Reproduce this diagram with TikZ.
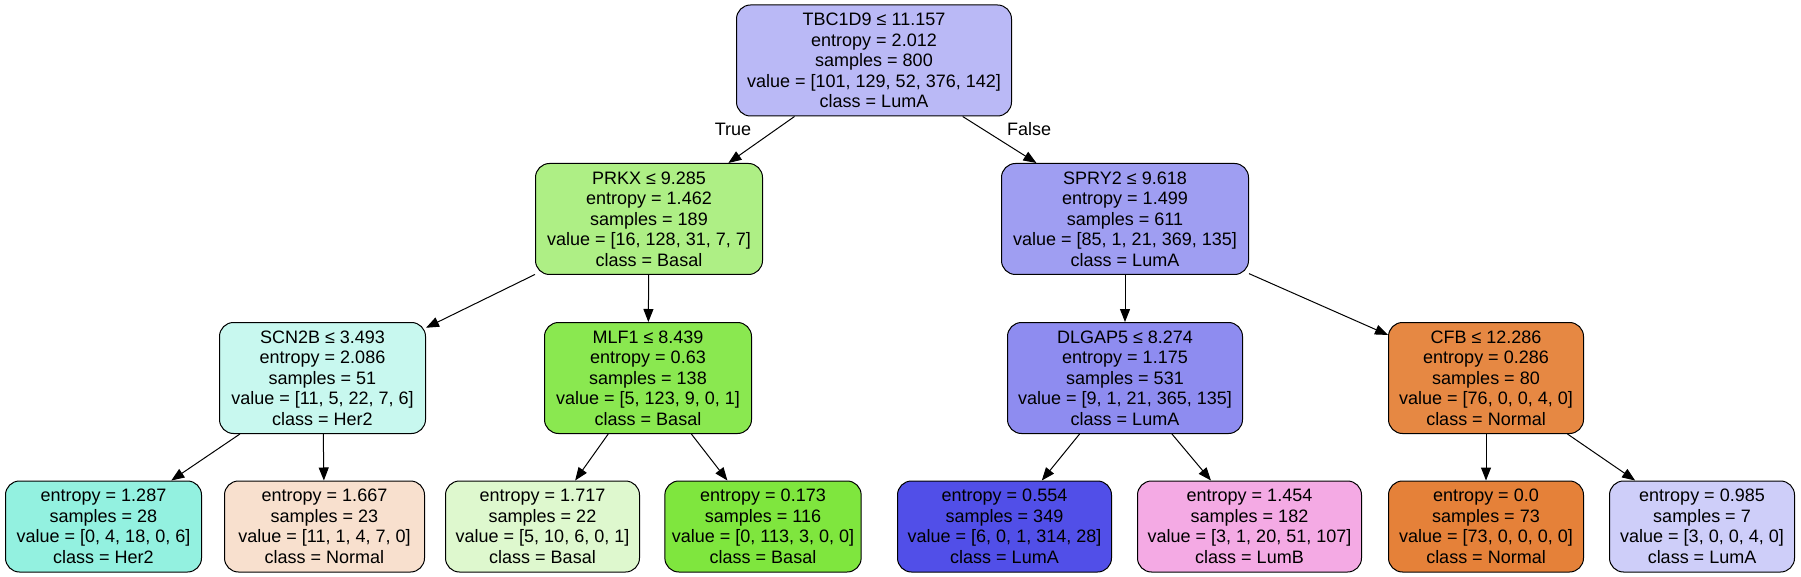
\documentclass[tikz,border=0pt]{standalone}
\usepackage{fontspec}
\setmainfont{Liberation Sans}
\usetikzlibrary{arrows.meta}

% node colours
\definecolor{cRoot}{RGB}{186,185,246}
\definecolor{cPrkx}{RGB}{174,239,133}
\definecolor{cSpry}{RGB}{159,158,242}
\definecolor{cScn}{RGB}{200,248,239}
\definecolor{cMlf}{RGB}{138,232,80}
\definecolor{cDlg}{RGB}{142,140,240}
\definecolor{cCfb}{RGB}{230,136,67}
\definecolor{cLa}{RGB}{147,241,224}
\definecolor{cLb}{RGB}{248,224,206}
\definecolor{cLc}{RGB}{222,248,206}
\definecolor{cLd}{RGB}{127,230,62}
\definecolor{cLe}{RGB}{81,79,232}
\definecolor{cLf}{RGB}{244,170,228}
\definecolor{cLg}{RGB}{229,129,57}
\definecolor{cLh}{RGB}{206,206,249}

\begin{document}
\begin{tikzpicture}[x=1pt,y=-1pt,
        split/.style={draw=black,line width=1pt,rounded corners=14pt,align=center,
            minimum height=111pt,inner xsep=7pt,inner ysep=2pt,
            font=\fontsize{18}{20.5}\selectfont},
        leaf/.style={split,minimum height=91pt},
        branch/.style={-{Triangle[length=13pt,width=10pt]},line width=1pt},
        lbl/.style={font=\fontsize{18}{20.5}\selectfont}]

        \fill[white] (0,0) rectangle (1801,577);

        % root and first split
        \node[split,fill=cRoot,minimum width=275pt] (root) at (874,60.5)
            {TBC1D9 ≤ 11.157\\entropy = 2.012\\samples = 800\\value = [101, 129, 52, 376, 142]\\class = LumA};
        \node[split,fill=cPrkx,minimum width=227pt] (prkx) at (649,219)
            {PRKX ≤ 9.285\\entropy = 1.462\\samples = 189\\value = [16, 128, 31, 7, 7]\\class = Basal};
        \node[split,fill=cSpry,minimum width=247pt] (spry) at (1125,219)
            {SPRY2 ≤ 9.618\\entropy = 1.499\\samples = 611\\value = [85, 1, 21, 369, 135]\\class = LumA};

        % second level
        \node[split,fill=cScn,minimum width=206pt] (scn) at (322.5,378)
            {SCN2B ≤ 3.493\\entropy = 2.086\\samples = 51\\value = [11, 5, 22, 7, 6]\\class = Her2};
        \node[split,fill=cMlf,minimum width=207pt] (mlf) at (648,378)
            {MLF1 ≤ 8.439\\entropy = 0.63\\samples = 138\\value = [5, 123, 9, 0, 1]\\class = Basal};
        \node[split,fill=cDlg,minimum width=235pt] (dlg) at (1125,378)
            {DLGAP5 ≤ 8.274\\entropy = 1.175\\samples = 531\\value = [9, 1, 21, 365, 135]\\class = LumA};
        \node[split,fill=cCfb,minimum width=195pt] (cfb) at (1486,378)
            {CFB ≤ 12.286\\entropy = 0.286\\samples = 80\\value = [76, 0, 0, 4, 0]\\class = Normal};

        % leaves
        \node[leaf,fill=cLa,minimum width=196pt] (la) at (103.5,526.5)
            {entropy = 1.287\\samples = 28\\value = [0, 4, 18, 0, 6]\\class = Her2};
        \node[leaf,fill=cLb,minimum width=200pt] (lb) at (324.5,526.5)
            {entropy = 1.667\\samples = 23\\value = [11, 1, 4, 7, 0]\\class = Normal};
        \node[leaf,fill=cLc,minimum width=194pt] (lc) at (542.5,526.5)
            {entropy = 1.717\\samples = 22\\value = [5, 10, 6, 0, 1]\\class = Basal};
        \node[leaf,fill=cLd,minimum width=195pt] (ld) at (763,526.5)
            {entropy = 0.173\\samples = 116\\value = [0, 113, 3, 0, 0]\\class = Basal};
        \node[leaf,fill=cLe,minimum width=214pt] (le) at (1004.5,526.5)
            {entropy = 0.554\\samples = 349\\value = [6, 0, 1, 314, 28]\\class = LumA};
        \node[leaf,fill=cLf,minimum width=224pt] (lf) at (1249.5,526.5)
            {entropy = 1.454\\samples = 182\\value = [3, 1, 20, 51, 107]\\class = LumB};
        \node[leaf,fill=cLg,minimum width=195pt] (lg) at (1486,526.5)
            {entropy = 0.0\\samples = 73\\value = [73, 0, 0, 0, 0]\\class = Normal};
        \node[leaf,fill=cLh,minimum width=185pt] (lh) at (1702,526.5)
            {entropy = 0.985\\samples = 7\\value = [3, 0, 0, 4, 0]\\class = LumA};

        \node[lbl] (ltrue) at (733,129) {True};
        \node[lbl] (lfalse) at (1029,129) {False};

        \draw[branch] (root) -- (prkx);
        \draw[branch] (root) -- (spry);
        \draw[branch] (prkx) -- (scn);
        \draw[branch] (prkx) -- (mlf);
        \draw[branch] (spry) -- (dlg);
        \draw[branch] (spry) -- (cfb);
        \draw[branch] (scn) -- (la);
        \draw[branch] (scn) -- (lb);
        \draw[branch] (mlf) -- (lc);
        \draw[branch] (mlf) -- (ld);
        \draw[branch] (dlg) -- (le);
        \draw[branch] (dlg) -- (lf);
        \draw[branch] (cfb) -- (lg);
        \draw[branch] (cfb) -- (lh);

    \end{tikzpicture}
\end{document}
